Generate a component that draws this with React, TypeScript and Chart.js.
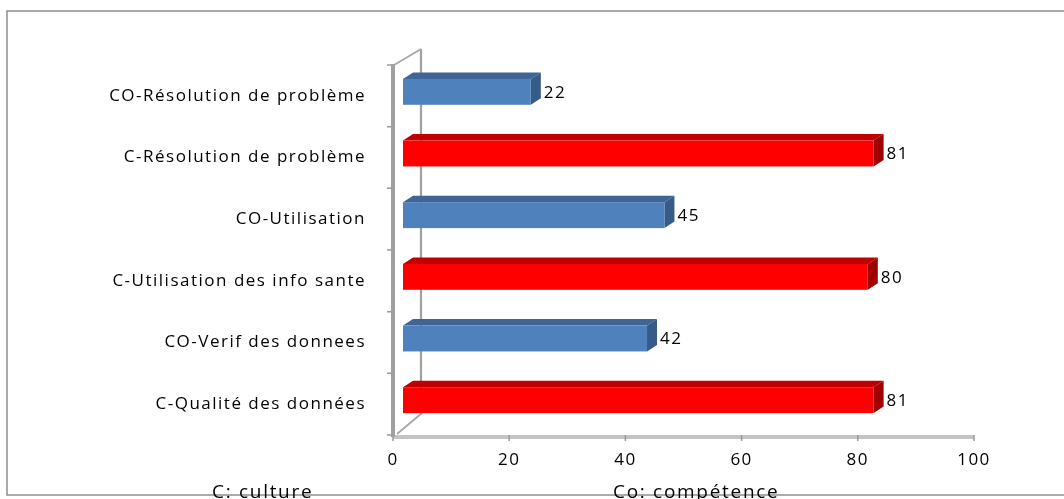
import React, { useEffect, useRef } from 'react';
import { Chart, registerables } from 'chart.js';

Chart.register(...registerables);

// ---- data ----
const categories = [
  'CO-Résolution de problème',
  'C-Résolution de problème',
  'CO-Utilisation',
  'C-Utilisation des info sante',
  'CO-Verif des donnees',
  'C-Qualité des données',
];
const values = [22, 81, 45, 80, 42, 81];
const xMin = 0;
const xMax = 100;
const xStep = 20;
const noteLeft = 'C: culture';
const noteRight = 'Co: compétence';

// ---- style ----
const FONT = '"Open Sans", sans-serif';
const SPACING = '1.5px';
const palette = {
  C: { front: '#FF0000', top: '#C00000', side: '#A00000' },
  CO: { front: '#4F81BD', top: '#3E6595', side: '#375B89' },
};
const D = { sx: 10, sy: -4, dx: 10, dy: 6.5 };

const decor = {
  id: 'decor',
  beforeDraw(chart: any) {
    const ctx = chart.ctx;
    ctx.save();
    ctx.fillStyle = '#ffffff';
    ctx.fillRect(0, 0, chart.width, chart.height);
    ctx.strokeStyle = '#8E8E8E';
    ctx.lineWidth = 1.5;
    ctx.strokeRect(7, 11, chart.width + 20, 484);
    ctx.restore();
    ctx.letterSpacing = SPACING;
  },
  beforeDatasetsDraw(chart: any) {
    const ctx = chart.ctx;
    const { left, right, top, bottom } = chart.chartArea;
    const xs = chart.scales.x;
    ctx.save();
    ctx.letterSpacing = '0px';
    // back wall edge
    ctx.strokeStyle = '#A0A0A0';
    ctx.lineWidth = 2.2;
    ctx.beginPath();
    ctx.moveTo(left + 28, top - 16);
    ctx.lineTo(left + 28, bottom - 22);
    ctx.stroke();
    // diagonals
    ctx.lineWidth = 1.8;
    ctx.strokeStyle = '#A8A8A8';
    ctx.beginPath();
    ctx.moveTo(left + 1, top);
    ctx.lineTo(left + 28, top - 16);
    ctx.moveTo(left + 4, bottom - 1);
    ctx.lineTo(left + 29, bottom - 22);
    ctx.stroke();
    // x axis floor edge
    ctx.fillStyle = '#C4C4C4';
    ctx.fillRect(left, bottom, right - left, 4);
    ctx.strokeStyle = '#9A9A9A';
    ctx.lineWidth = 1.5;
    ctx.beginPath();
    for (let v = xMin; v <= xMax; v += xStep) {
      const px = xs.getPixelForValue(v);
      ctx.moveTo(px, bottom);
      ctx.lineTo(px, bottom + 6);
    }
    ctx.stroke();
    // y axis front line
    ctx.strokeStyle = '#A0A0A0';
    ctx.lineWidth = 4;
    ctx.beginPath();
    ctx.moveTo(left, top - 1);
    ctx.lineTo(left, bottom + 2);
    ctx.stroke();
    // y tick marks at category boundaries
    ctx.strokeStyle = '#9A9A9A';
    ctx.lineWidth = 1.5;
    ctx.beginPath();
    const n = categories.length;
    for (let i = 0; i <= n; i++) {
      const py = top + ((bottom - top) * i) / n;
      ctx.moveTo(left - 6, py);
      ctx.lineTo(left - 1, py);
    }
    ctx.stroke();
    ctx.restore();
  },
  afterDatasetsDraw(chart: any) {
    const ctx = chart.ctx;
    const meta = chart.getDatasetMeta(0);
    ctx.save();
    ctx.letterSpacing = SPACING;
    meta.data.forEach((el: any, i: number) => {
      const { x, y, base, height } = el.getProps(['x', 'y', 'base', 'height'], true);
      const col = categories[i].startsWith('CO') ? palette.CO : palette.C;
      const x0 = base + D.sx;
      const x1 = x + D.sx;
      const t = y - height / 2 + D.sy;
      const b = y + height / 2 + D.sy;
      ctx.fillStyle = col.top;
      ctx.beginPath();
      ctx.moveTo(x0, t);
      ctx.lineTo(x0 + D.dx, t - D.dy);
      ctx.lineTo(x1 + D.dx, t - D.dy);
      ctx.lineTo(x1, t);
      ctx.closePath();
      ctx.fill();
      ctx.fillStyle = col.side;
      ctx.beginPath();
      ctx.moveTo(x1, t);
      ctx.lineTo(x1 + D.dx, t - D.dy);
      ctx.lineTo(x1 + D.dx, b - D.dy);
      ctx.lineTo(x1, b);
      ctx.closePath();
      ctx.fill();
      ctx.fillStyle = col.front;
      ctx.fillRect(x0, t, x1 - x0, b - t);
      ctx.fillStyle = '#000000';
      ctx.font = `17px ${FONT}`;
      ctx.textAlign = 'left';
      ctx.textBaseline = 'middle';
      ctx.fillText(String(values[i]), x1 + D.dx + 3, y + D.sy + 1);
    });
    ctx.restore();
  },
  afterDraw(chart: any) {
    const ctx = chart.ctx;
    ctx.save();
    ctx.letterSpacing = '1.7px';
    ctx.fillStyle = '#000000';
    ctx.font = `19px ${FONT}`;
    ctx.textAlign = 'left';
    ctx.textBaseline = 'alphabetic';
    ctx.fillText(noteLeft, 212, 498);
    ctx.fillText(noteRight, 613, 498);
    ctx.restore();
    ctx.letterSpacing = '0px';
  },
};

export default function App() {
  const ref = useRef<HTMLCanvasElement | null>(null);
  useEffect(() => {
    if (!ref.current) return;
    const chart = new Chart(ref.current, {
      type: 'bar',
      data: {
        labels: categories,
        datasets: [
          {
            data: values,
            backgroundColor: 'rgba(0,0,0,0)',
            borderWidth: 0,
            barPercentage: 0.42,
            categoryPercentage: 1,
          },
        ],
      },
      options: {
        indexAxis: 'y',
        animation: false,
        responsive: true,
        maintainAspectRatio: false,
        layout: { padding: { left: 0, right: 90, top: 65, bottom: 0 } },
        plugins: { legend: { display: false }, tooltip: { enabled: false }, title: { display: false } },
        scales: {
          x: {
            min: xMin,
            max: xMax,
            grid: { display: false, drawTicks: false },
            border: { display: false },
            ticks: { stepSize: xStep, color: '#000', padding: 15, font: { family: FONT, size: 17 } },
            afterFit: (s: any) => {
              s.height = 64;
            },
          },
          y: {
            grid: { display: false, drawTicks: false },
            border: { display: false },
            ticks: { color: '#000', padding: 27, autoSkip: false, font: { family: FONT, size: 17 } },
            afterFit: (s: any) => {
              s.width = 393;
            },
          },
        },
      },
      plugins: [decor],
    });
    return () => chart.destroy();
  }, []);
  return (
    <div style={{ position: 'fixed', left: 0, top: 0, width: 1064, height: 499, background: '#fff' }}>
      <canvas ref={ref} />
    </div>
  );
}
